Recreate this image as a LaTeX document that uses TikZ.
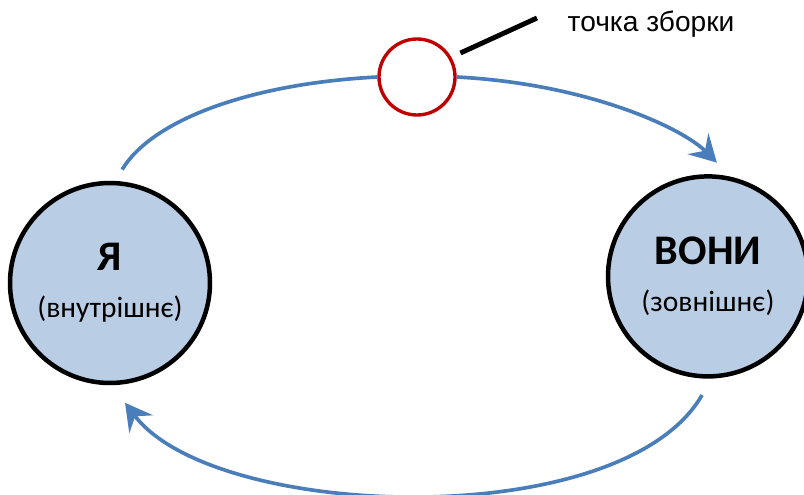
\documentclass[tikz,border=0pt]{standalone}
\usepackage{fontspec}
\setmainfont{Carlito}
\newfontfamily\labelfont{Liberation Sans}
\usetikzlibrary{arrows.meta}
\definecolor{flowblue}{RGB}{74,126,187}
\definecolor{discfill}{RGB}{185,205,229}
\definecolor{pointred}{RGB}{192,0,0}

\begin{document}
\begin{tikzpicture}[
    disc/.style={circle,draw=black,line width=3.2pt,fill=discfill,minimum size=5cm,inner sep=0pt,align=center},
    flow/.style={flowblue,line width=2.6pt},
    tip/.style={-{Stealth[length=19pt,width=21pt,inset=7pt]}}
]
    \useasboundingbox (0,0) rectangle (20.1,12.35);
    \node[disc] (ya) at (2.75,5.275) {\fontsize{30}{32}\selectfont\bfseries Я\\[17pt]\fontsize{21}{24}\selectfont (внутрішнє)};
    \node[disc] (vony) at (17.7,5.44) {\fontsize{30}{32}\selectfont\bfseries ВОНИ\\[17pt]\fontsize{21}{24}\selectfont (зовнішнє)};
    \node[circle,draw=pointred,line width=2.4pt,fill=white,minimum size=1.9cm] (pt) at (10.425,10.425) {};
    \node[anchor=base,font=\labelfont\fontsize{20}{24}\selectfont] (lbl) at (16.275,11.56) {точка зборки};
    \coordinate (lbltip) at (13.425,11.9);
    \draw[line width=3.5pt,shorten <=0.25cm] (pt.30) -- (lbltip);
    % arcs
    \draw[flow,shorten <=0.33cm] (ya.87) .. controls +(59:1.75) and +(183:3.25) .. (pt.west);
    \draw[flow,tip,shorten >=0.5cm] (pt.east) .. controls +(-3:3.25) and +(135:1.75) .. (vony.77);
    \draw[flow,tip,shorten <=0.475cm,shorten >=0.55cm] (vony.-88) .. controls +(-120:4.5) and +(-53:4.25) .. (ya.-89);
\end{tikzpicture}
\end{document}
